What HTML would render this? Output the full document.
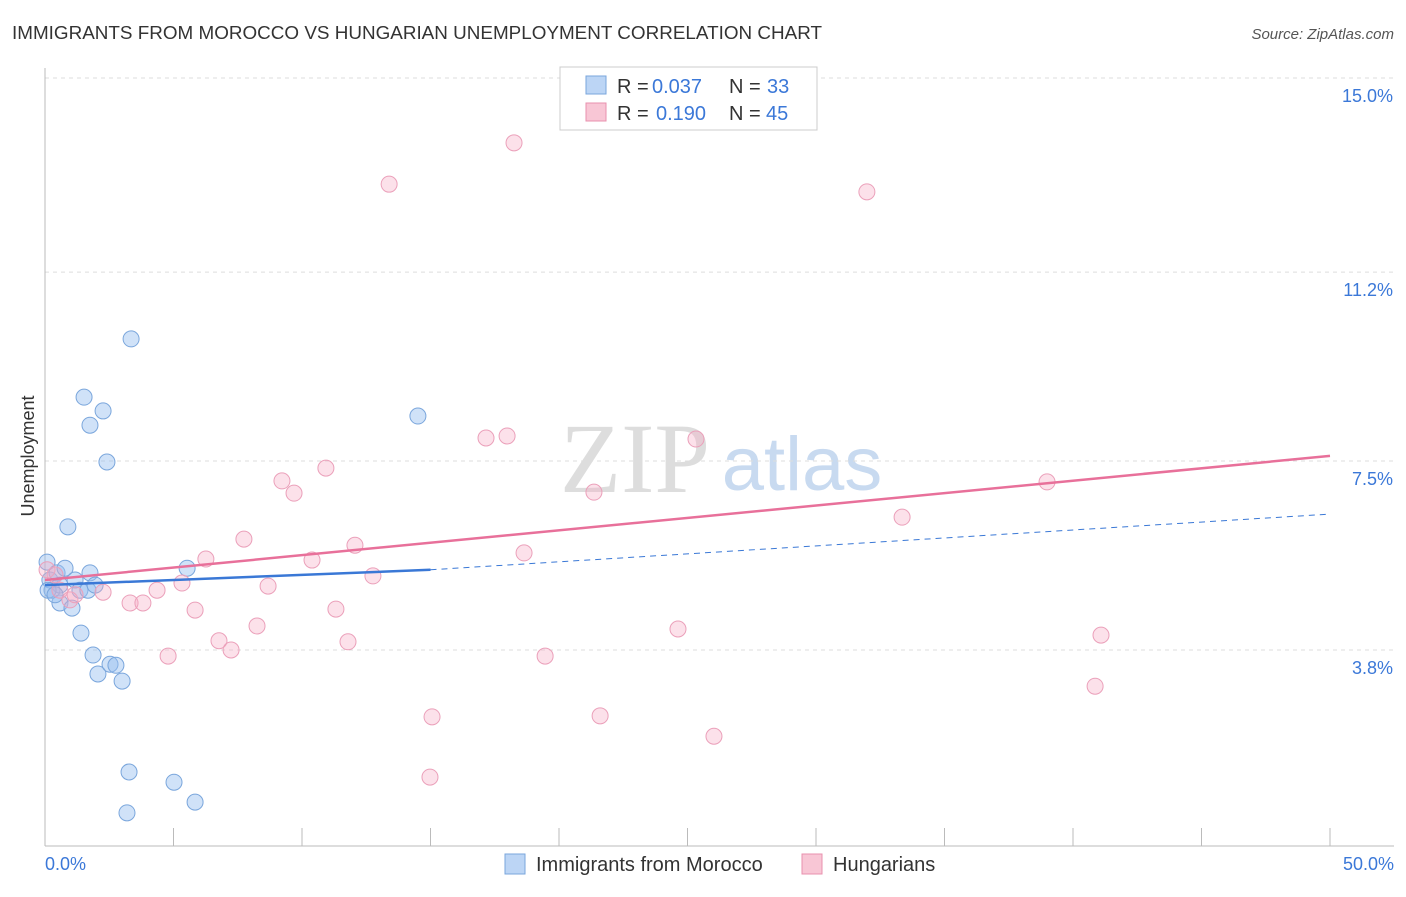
<!DOCTYPE html>
<html><head><meta charset="utf-8"><style>
body{margin:0;background:#fff;font-family:"Liberation Sans",sans-serif}
</style></head><body>
<svg width="1406" height="892" xmlns="http://www.w3.org/2000/svg" id="c">
<text x="12" y="39" font-size="18.5" fill="#333" textLength="810" lengthAdjust="spacingAndGlyphs">IMMIGRANTS FROM MOROCCO VS HUNGARIAN UNEMPLOYMENT CORRELATION CHART</text>
<text x="1394" y="39" font-size="15" fill="#555" font-style="italic" text-anchor="end">Source: ZipAtlas.com</text>
<text x="34" y="456" font-size="18" fill="#333" text-anchor="middle" transform="rotate(-90 34 456)">Unemployment</text>
<g><text x="635" y="492" font-size="100" fill="#ddd" font-family="Liberation Serif,serif" text-anchor="middle">ZIP</text><text x="802" y="490" font-size="76" fill="#c8daf0" text-anchor="middle">atlas</text></g>
<g id="grid"></g><g id="marks"></g>
<g>
<rect x="560" y="67" width="257" height="63" fill="#fff" stroke="#ccc"/>
<rect x="586" y="76" width="20" height="18" fill="#bcd5f5" stroke="#7aa6dc"/>
<rect x="586" y="103" width="20" height="18" fill="#f8c6d5" stroke="#e890ae"/>
<text x="617" y="93" font-size="20" fill="#333">R =</text><text x="652" y="93" font-size="20" fill="#3b78d8">0.037</text>
<text x="729" y="93" font-size="20" fill="#333">N =</text><text x="767" y="93" font-size="20" fill="#3b78d8">33</text>
<text x="617" y="120" font-size="20" fill="#333">R =</text><text x="656" y="120" font-size="20" fill="#3b78d8">0.190</text>
<text x="729" y="120" font-size="20" fill="#333">N =</text><text x="766" y="120" font-size="20" fill="#3b78d8">45</text>
</g>
<g>
<rect x="505" y="854" width="20" height="20" fill="#bcd5f5" stroke="#7aa6dc"/>
<text x="536" y="871" font-size="20" fill="#333">Immigrants from Morocco</text>
<rect x="802" y="854" width="20" height="20" fill="#f8c6d5" stroke="#e890ae"/>
<text x="833" y="871" font-size="20" fill="#333">Hungarians</text>
</g>
</svg>
<script>
const yTicks=[3.8,7.5,11.2,15.0];
const yTickLabels=["3.8%","7.5%","11.2%","15.0%"];
const xTickLabels=["0.0%","50.0%"];
const blueX=[0.08,0.19,0.27,0.47,0.58,0.78,0.58,1.05,0.89,1.17,1.36,1.75,1.67,1.95,1.52,1.75,2.26,2.41,3.35,1.40,1.87,2.06,2.53,2.76,3.00,3.27,5.02,5.84,3.19,5.53,14.51,0.12,0.39];
const blueY=[5.56,5.21,5.01,5.35,5.11,5.44,4.76,4.66,6.25,5.21,5.01,5.35,5.01,5.11,8.79,8.24,8.52,7.52,9.93,4.17,3.74,3.37,3.56,3.54,3.23,1.45,1.25,0.86,0.65,5.44,8.42,5.01,4.92];
const pinkX=[0.08,0.39,0.58,0.97,1.17,2.26,3.31,3.81,4.36,4.79,5.33,5.84,6.26,6.77,7.24,7.74,8.25,8.68,9.22,9.69,10.39,10.93,11.32,11.79,12.06,12.76,13.39,15.06,14.98,17.16,17.98,18.25,18.64,19.46,21.36,21.60,24.63,25.33,26.03,31.98,33.35,38.99,40.86,41.09,22.57];
const pinkY=[5.41,5.31,5.01,4.82,4.92,4.97,4.76,4.76,5.01,3.72,5.15,4.62,5.62,4.02,3.84,6.01,4.31,5.09,7.15,6.91,5.60,7.40,4.64,4.00,5.89,5.29,12.96,2.53,1.35,7.99,8.03,13.77,5.74,3.72,6.93,2.55,4.25,7.97,2.15,12.81,6.44,7.13,3.13,4.13,15.0];
const blueTrend=[5.11,5.41,6.5]; const blueTrendX=[0,15,50];
const pinkTrend=[5.21,7.64]; const pinkTrendX=[0,50];
const X=v=>45+v*25.7, Y=v=>80+(15-v)*51.07;
const NS="http://www.w3.org/2000/svg";
function mk(p,t,a){const e=document.createElementNS(NS,t);for(const k in a)e.setAttribute(k,a[k]);p.appendChild(e);return e;}
const g=document.getElementById('grid'), m=document.getElementById('marks');
yTicks.forEach((t,i)=>{
 const l=mk(g,'line',{x1:45,x2:1394,y1:Y(t)-2,y2:Y(t)-2,stroke:'#ddd','stroke-dasharray':'4,4'});
 
 
 const tx=mk(g,'text',{x:1393,y:Y(t)+22,'font-size':18,fill:'#3b78d8','text-anchor':'end'});tx.textContent=yTickLabels[i];
 
 
});
mk(g,'line',{x1:45,x2:45,y1:68,y2:846,stroke:'#bbb'});
mk(g,'line',{x1:45,x2:1394,y1:846,y2:846,stroke:'#bbb'});
for(let i=0;i<=10;i++){const x=X(i*5);const t=mk(g,'line',{x1:x,x2:x,y1:828,y2:846,stroke:'#bbb'});
 
 }
[[0,'start',45],[1,'end',1394]].forEach(([i,a,x])=>{const t=mk(g,'text',{x:x,y:870,'font-size':18,fill:'#3b78d8','text-anchor':a});t.textContent=xTickLabels[i];
 
 });
blueX.forEach((x,i)=>{const c=mk(m,'circle',{cx:X(x),cy:Y(blueY[i]),r:8,fill:'rgba(150,190,240,0.45)',stroke:'#7aa6dc','stroke-width':1});
 
 });
pinkX.forEach((x,i)=>{const c=mk(m,'circle',{cx:X(x),cy:Y(pinkY[i]),r:8,fill:'rgba(245,170,195,0.35)',stroke:'#eba0ba','stroke-width':1});
 
 });
let l1=mk(m,'line',{x1:X(blueTrendX[0]),y1:Y(blueTrend[0]),x2:X(blueTrendX[1]),y2:Y(blueTrend[1]),stroke:'#3a78d6','stroke-width':2.5});


let l2=mk(m,'line',{x1:X(blueTrendX[1]),y1:Y(blueTrend[1]),x2:X(blueTrendX[2]),y2:Y(blueTrend[2]),stroke:'#3a78d6','stroke-width':1,'stroke-dasharray':'6,5'});


let l3=mk(m,'line',{x1:X(pinkTrendX[0]),y1:Y(pinkTrend[0]),x2:X(pinkTrendX[1]),y2:Y(pinkTrend[1]),stroke:'#e8709a','stroke-width':2.5});


</script>
</body></html>
